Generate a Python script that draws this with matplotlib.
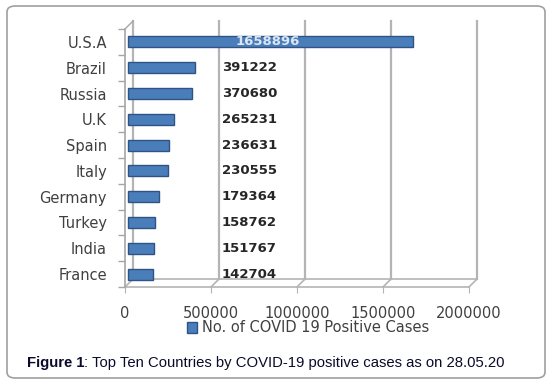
"""Top ten countries by COVID-19 positive cases (28.05.20), Excel-style 3D bar look."""

import matplotlib

matplotlib.use("Agg")
import matplotlib.pyplot as plt
import numpy as np
from matplotlib.patches import FancyBboxPatch
from matplotlib.transforms import ScaledTranslation

countries = ["U.S.A", "Brazil", "Russia", "U.K", "Spain", "Italy",
             "Germany", "Turkey", "India", "France"]
cases = [1658896, 391222, 370680, 265231, 236631, 230555,
         179364, 158762, 151767, 142704]
xticks = [0, 500000, 1000000, 1500000, 2000000]
series_name = "No. of COVID 19 Positive Cases"
caption_bold = "Figure 1"
caption_rest = ": Top Ten Countries by COVID-19 positive cases as on 28.05.20"

BAR = "#4a7ebb"
BAR_EDGE = "#2f5483"
WALL = "#b4b4b4"
TEXT = "#404040"

W, H = 552, 387
fig = plt.figure(figsize=(W / 100, H / 100), dpi=100)


def px(x0, y0, x1, y1):
    # pixel box (left, top, right, bottom) -> figure fraction rect
    return [x0 / W, 1 - y1 / H, (x1 - x0) / W, (y1 - y0) / H]


# rounded outer frame
fig.patches.append(FancyBboxPatch((7 / W, 9 / H), 538 / W, 372 / H,
                                  boxstyle="round,pad=0,rounding_size=0.015",
                                  transform=fig.transFigure, facecolor="white",
                                  edgecolor="#a0a0a0", linewidth=1.2, zorder=-5))

ax = fig.add_axes(px(125, 29, 469, 287))
ax.set_facecolor("none")
for s in ax.spines.values():
    s.set_visible(False)

xmax = xticks[-1]
n = len(countries)
y = np.arange(n)
ax.set_xlim(0, xmax)
ax.set_ylim(n - 0.5, -0.5)

back = ax.transData + ScaledTranslation(0.08, 0.08, fig.dpi_scale_trans)
mid = ax.transData + ScaledTranslation(0.03, 0.0, fig.dpi_scale_trans)
top, bot = -0.5, n - 0.5

# back wall gridlines and floor
for xv in xticks:
    ax.plot([xv, xv], [bot, top], color=WALL, lw=1.6, transform=back,
            clip_on=False, zorder=0)
    # diagonal from front floor edge to back wall
    p0 = ax.transData.transform((xv, bot))
    p1 = back.transform((xv, bot))
    ax.plot([p0[0], p1[0]], [p0[1], p1[1]], color=WALL, lw=1.2,
            transform=None, clip_on=False, zorder=0)
ax.plot([0, xmax], [bot, bot], color=WALL, lw=1.2, transform=back, clip_on=False, zorder=0)
ax.plot([0, xmax], [bot, bot], color=WALL, lw=1.2, clip_on=False, zorder=0)
# front left axis
ax.plot([0, 0], [bot, top], color="#a6a6a6", lw=1.2, clip_on=False, zorder=1)
p0 = ax.transData.transform((0, top))
p1 = back.transform((0, top))
ax.plot([p0[0], p1[0]], [p0[1], p1[1]], color="#a6a6a6", lw=1.0,
        transform=None, clip_on=False, zorder=1)

bars = ax.barh(y, cases, height=0.42, color=BAR, edgecolor=BAR_EDGE,
               linewidth=1.0, zorder=3)
for b in bars:
    b.set_transform(mid)

# value labels
label_x = 0.282 * xmax
for yi, v in zip(y, cases):
    if v > label_x:
        ax.text(label_x + 0.04 * xmax, yi, f"{v}", ha="left", va="center",
                fontsize=9.5, fontweight="bold", color="#dce6f2", zorder=4)
    else:
        ax.text(label_x, yi, f"{v}", ha="left", va="center",
                fontsize=9.5, fontweight="bold", color="#262626", zorder=4)

ax.set_yticks(y, countries)
ax.set_yticks(np.arange(n + 1) - 0.5, minor=True)
ax.tick_params(axis="y", which="major", length=0, pad=13, labelsize=10.5,
               labelcolor=TEXT)
ax.tick_params(axis="y", which="minor", length=5, color="#a6a6a6", width=1)
ax.set_xticks(xticks, [str(t) for t in xticks])
ax.tick_params(axis="x", length=4, color=WALL, pad=10, labelsize=10.5,
               labelcolor=TEXT)

handle = plt.Rectangle((0, 0), 1, 1, facecolor=BAR, edgecolor=BAR_EDGE)
fig.legend([handle], [series_name], loc="center", bbox_to_anchor=(308 / W, 1 - 328 / H),
           frameon=False, handlelength=0.7, handleheight=0.7, handletextpad=0.3,
           prop={"size": 10.5}, labelcolor=TEXT)

t1 = fig.text(27 / W, 1 - 363 / H, caption_bold, fontsize=10.7, fontweight="bold",
              family="Liberation Sans", color="#0a0a2a", va="center", ha="left")
ax.annotate(caption_rest, xy=(1, 0.5), xycoords=t1, va="center", ha="left",
            fontsize=10.7, family="Liberation Sans", color="#0a0a2a",
            annotation_clip=False)

fig.savefig("out.png", dpi=100)
